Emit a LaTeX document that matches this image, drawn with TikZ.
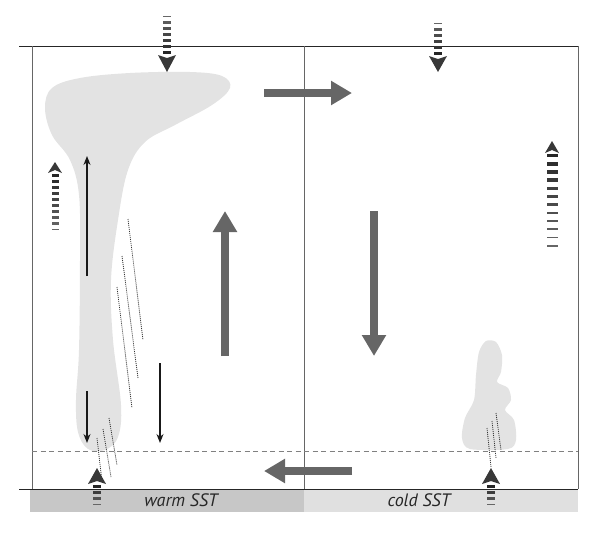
\documentclass[tikz,border=0pt]{standalone}
\usepackage{fontspec}
\setmainfont{PT Sans}
\usetikzlibrary{arrows.meta}

% striped arrow: x, tip y, head base y, tail y, stripe half width, head half width, stripe spacing
\newcommand{\stripedarrow}[7]{%
  \pgfmathsetmacro{\sdir}{sign(#4-#3)}
  \pgfmathtruncatemacro{\snum}{abs(#4-#3)/#7}
  \foreach \i in {0,...,\snum}{
    \pgfmathsetmacro{\sy}{#3+\sdir*(2.5+\i*#7)}
    \pgfmathsetmacro{\st}{3.8-2*\i/\snum}
    \pgfmathtruncatemacro{\sc}{85-25*\i/\snum}
    \fill[black!\sc] ({#1-#5},{\sy-\st/2}) rectangle ({#1+#5},{\sy+\st/2});
  }
  \fill[black!78] ({#1-#6},#3) -- (#1,{#3-\sdir*3}) -- ({#1+#6},#3) -- (#1,#2) -- cycle;
}

\begin{document}
\begin{tikzpicture}[x=1pt,y=-1pt,
    cloud/.style={fill=black!11},
    bigarrow/.style={draw=black!60,line width=8pt,-{Triangle[length=21pt,width=23pt]}},
    thinarrow/.style={draw=black!90,line width=1.3pt,-{Stealth[length=9pt,width=7pt]}},
    rain/.style={draw=black!80,line width=0.8pt,dash pattern=on 1pt off 1pt},
    sst/.style={font=\itshape\fontsize{18}{20}\selectfont,text=black!85}]
    \useasboundingbox (0,0) rectangle (603,547);

    % clouds
    \fill[cloud] plot[smooth cycle,tension=0.6] coordinates {(45,108) (52,88) (80,78) (130,73) (190,72) (222,76) (230,88) (212,105) (175,125) (145,142) (128,170) (118,220) (111,280) (113,340) (121,405) (118,437) (105,450) (88,449) (78,432) (76,400) (79,350) (80,260) (79,195) (70,160) (52,135)};
    \fill[cloud] plot[smooth cycle,tension=0.5] coordinates {(470,449) (462,438) (465,418) (474,400) (476,375) (479,352) (486,341) (496,342) (502,355) (501,372) (497,382) (508,388) (511,400) (505,410) (514,420) (516,440) (508,449)};

    % rain
    \draw[rain] (128,219) -- (143,340);
    \draw[rain] (122,256) -- (138,378);
    \draw[rain] (117,287) -- (132,408);
    \draw[rain] (109,418) -- (117,465);
    \draw[rain] (103,429) -- (111,477);
    \draw[rain] (97,438) -- (102,482);
    \draw[rain] (496,413) -- (501,450);
    \draw[rain] (492,421) -- (496,458);
    \draw[rain] (487,428) -- (491,467);

    % sea surface
    \fill[black!22] (30,489) rectangle (304,512);
    \fill[black!12] (304,489) rectangle (578,512);
    \node[sst] (warm) at (181,500) {warm SST};
    \node[sst] (cold) at (419,500) {cold SST};

    % frame
    \draw[black!85,line width=0.9pt] (19,46) -- (578,46);
    \draw[black!85,line width=0.9pt] (19,489) -- (578,489);
    \foreach \x in {32,304,578}
        \draw[black!60,line width=0.9pt] (\x,46) -- (\x,489);
    \draw[black!50,line width=0.9pt,dash pattern=on 5pt off 3.5pt] (32,451) -- (578,451);

    % circulation
    \coordinate (tl) at (264,93);   \coordinate (tr) at (352,93);
    \coordinate (wb) at (225,356);  \coordinate (wt) at (225,211);
    \coordinate (ct) at (374,211);  \coordinate (cb) at (374,356);
    \coordinate (br) at (352,471);  \coordinate (bl) at (264,471);
    \draw[bigarrow] (tl) -- (tr);
    \draw[bigarrow] (wb) -- (wt);
    \draw[bigarrow] (ct) -- (cb);
    \draw[bigarrow] (br) -- (bl);

    % up- and downdrafts
    \coordinate (u1) at (87,276);  \coordinate (u2) at (87,156);
    \coordinate (d1) at (87,391);  \coordinate (d2) at (87,443);
    \coordinate (e1) at (160,363); \coordinate (e2) at (160,443);
    \draw[thinarrow] (u1) -- (u2);
    \draw[thinarrow] (d1) -- (d2);
    \draw[thinarrow] (e1) -- (e2);

    % striped arrows
    \stripedarrow{167}{72}{55}{19}{4}{9}{6}
    \stripedarrow{438}{72}{56}{21}{4}{9}{6}
    \stripedarrow{55}{162}{173}{228}{3.5}{7}{6}
    \stripedarrow{552}{141}{153}{250}{5.5}{7}{8.2}
    \stripedarrow{97}{468}{484}{503}{4}{9}{6}
    \stripedarrow{491}{468}{484}{503}{4}{9}{6}
\end{tikzpicture}
\end{document}
